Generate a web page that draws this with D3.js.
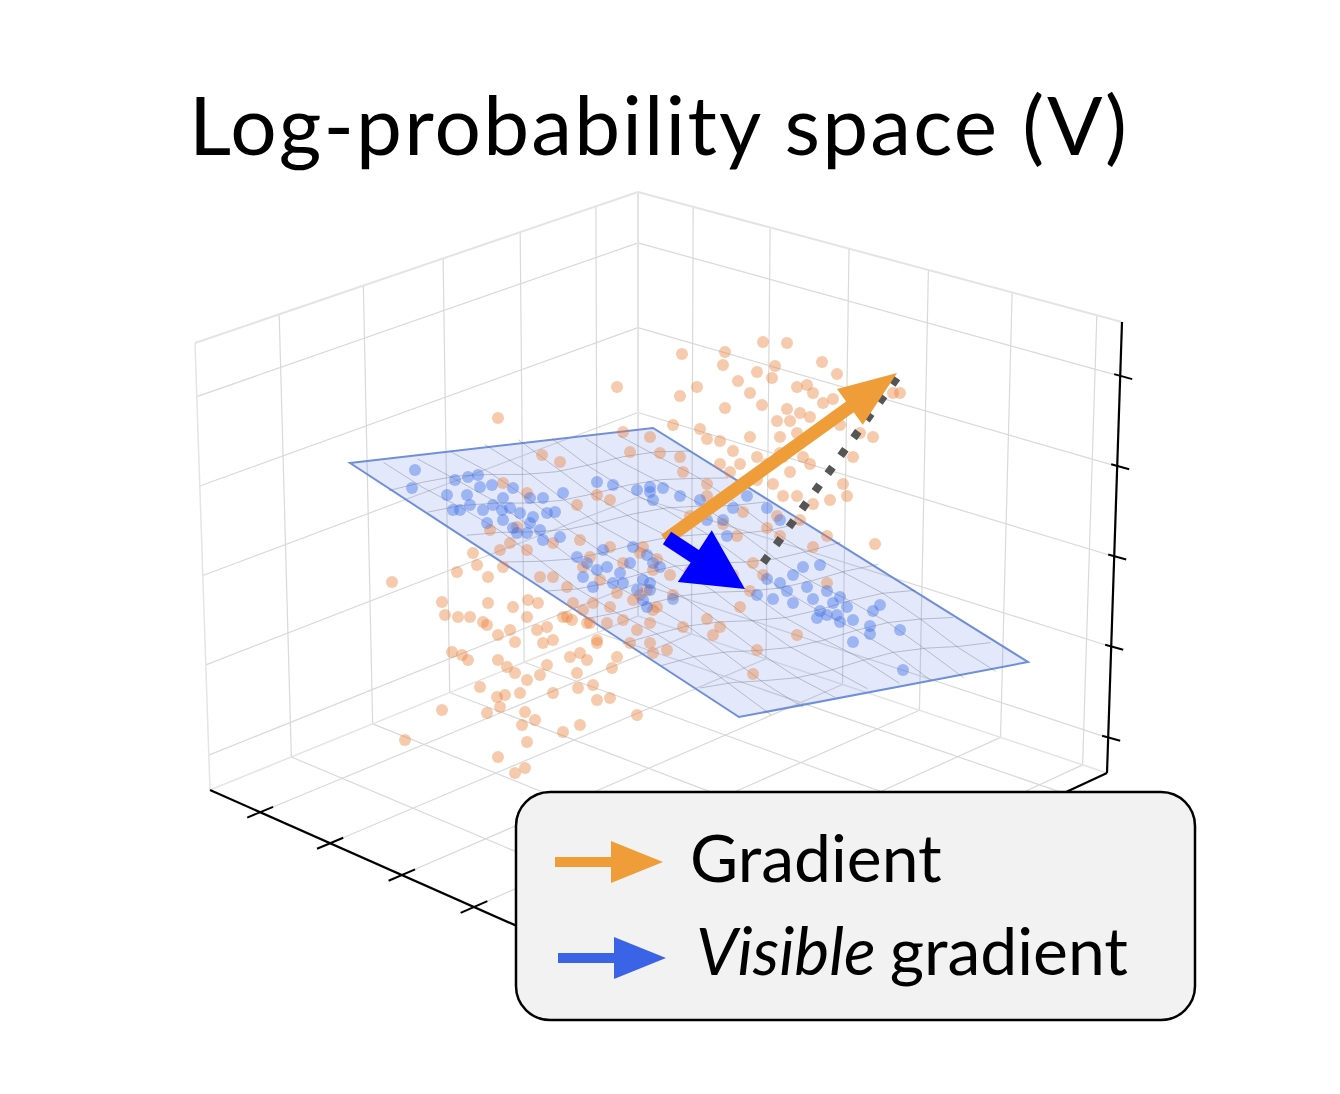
<!DOCTYPE html>
<html>
<head>
<meta charset="utf-8" />
<script src="https://cdnjs.cloudflare.com/ajax/libs/d3/7.8.5/d3.min.js"></script>
<style>
  body { margin: 0; background: #fff; }
  svg { display: block; }
  .title { font-family: Lato, "Open Sans", sans-serif; font-size: 82px; }
  .leg { font-family: Lato, "Open Sans", sans-serif; font-size: 66px; }
</style>
</head>
<body>
<div id="chart"></div>
<script>
// all positions below are in chart units: x = 0..134, y = 0..100 (y grows upward)
const titleText = 'Log-probability space (V)'
const legendLabels = ['Gradient', 'gradient']

// box corners of the 3d axes (back / left / right / front, bottom & top)
const boxBack = [[63.8, 38.4], [63.8, 80.8]]
const boxLeft = [[21.0, 21.0], [19.5, 65.7]]
const boxRight = [[110.7, 22.7], [112.2, 67.8]]
const boxFront = [[65.0, 1.5], [67.9, 52.7]]

const uTicks = [0.095, 0.266, 0.44, 0.62, 0.81]
const vTicks = [0.114, 0.273, 0.436, 0.60, 0.773, 0.948]
const wTicks = [0.078, 0.28, 0.48, 0.68, 0.88]

const planeCorners = [[35.0, 53.7], [65.3, 57.2], [102.8, 33.8], [73.9, 28.3]]

const orangePts = [
  [68.2,64.6],[72.5,64.8],[72.3,63.5],[76.3,65.8],[78.7,65.7],[82.2,63.8],[83.7,62.6],[69.7,61.3],
  [68.0,60.4],[72.5,59.2],[73.8,61.9],[75.7,62.8],[77.5,63.4],[77.2,62.2],[75.0,60.7],[76.2,59.5],
  [78.7,59.1],[79.7,61.3],[80.7,61.5],[81.3,60.7],[77.7,57.9],[79.0,57.9],[80.0,58.7],[81.0,58.3],
  [82.3,59.7],[83.3,60.1],[67.3,57.5],[70.0,57.1],[70.7,56.1],[72.0,55.9],[73.3,54.9],[75.0,56.3],
  [75.7,54.3],[78.0,56.3],[78.0,54.7],[79.7,56.7],[80.3,54.3],[81.0,53.6],[79.0,52.8],[78.3,54.3],
  [76.7,53.6],[74.0,53.6],[72.0,53.6],[84.0,57.5],[86.0,56.7],[87.3,56.3],[89.3,60.7],[90.0,60.7],
  [85.3,54.3],[84.3,51.6],[84.7,50.4],[83.0,50.0],[81.3,49.6],[79.7,50.4],[78.3,50.4],[77.3,51.6],
  [75.7,52.0],[73.0,52.8],[70.7,51.6],[77.7,48.4],[80.0,48.0],[81.3,45.3],[82.7,46.4],[87.5,45.6],
  [68.0,54.3],[66.0,54.7],[68.3,52.8],
  [54.2,54.5],[56.0,53.8],[62.3,56.8],[65.0,56.3],[63.0,54.8],[57.7,49.5],[59.7,50.5],[61.0,50.0],
  [52.7,50.7],[50.3,51.7],[49.0,47.0],[51.7,47.3],[51.0,45.7],[50.0,45.0],[52.7,45.0],[55.3,45.7],
  [58.0,46.0],[59.0,44.3],[61.0,45.3],[62.3,43.7],[64.0,44.7],[65.3,43.0],[55.3,42.3],[56.7,41.3],
  [54.0,42.3],[58.3,43.3],[60.0,42.0],[61.7,40.7],[63.3,40.0],[64.7,41.0],[65.3,39.0],[61.0,39.3],
  [59.3,39.7],[57.3,39.7],[58.7,37.7],[60.7,37.7],[62.3,38.0],[63.7,37.0],[65.0,37.7],[56.7,38.3],
  [59.7,36.0],[63.0,35.7],[61.7,34.3],[65.3,34.7],[64.0,40.5],[65.7,39.3],[67.3,40.5],[68.3,37.3],
  [70.7,38.1],[72.0,37.3],[65.0,35.7],[66.7,35.0],[74.0,39.3],[71.3,36.5],[75.7,35.0],[75.3,32.6],
  [79.7,36.5],[75.0,40.9],[73.3,42.5],[75.3,43.7],[76.3,42.5],[73.7,46.4],[72.3,47.6],[74.3,48.8],
  [76.7,47.2],[78.0,46.4],[82.7,41.7],[70.7,50.4],[69.0,48.4],[71.3,44.5],[69.0,42.9],[67.0,42.5],
  [65.7,44.1],[64.3,45.3],
  [39.2,41.8],[44.2,39.8],[44.5,38.5],[45.8,38.3],[47.0,38.3],[45.2,34.8],[46.2,34.5],[46.8,34.0],
  [48.3,37.8],[48.8,39.7],[48.7,37.5],[49.8,36.5],[51.0,37.0],[51.5,35.8],[51.3,39.3],[52.8,40.0],
  [52.7,38.3],[53.8,39.7],[53.7,37.0],[54.3,35.7],[55.3,36.0],[54.7,37.3],[56.3,38.3],[57.2,38.0],
  [58.3,39.0],[59.0,37.7],[59.7,35.7],[57.0,34.3],[58.0,34.7],[58.7,34.0],[61.2,33.2],[49.8,34.0],
  [50.7,33.3],[51.5,32.7],[52.7,32.0],[54.0,32.5],[54.7,33.5],[52.0,30.7],[48.0,31.3],[49.7,30.3],
  [50.5,30.5],[50.0,29.3],[48.7,28.7],[44.2,29.0],[52.5,28.8],[53.5,28.0],[52.2,27.5],[52.7,25.8],
  [55.3,30.7],[57.8,31.2],[59.3,31.5],[59.7,30.0],[61.0,30.2],[56.3,26.8],[58.0,27.5],[63.7,28.5],
  [40.5,26.0],[49.8,24.3],[51.5,22.7],[52.5,23.2],[57.7,32.7],[45.7,42.8],[47.7,43.5],[47.3,44.7],
  [48.8,42.3],[50.3,43.3],[49.8,58.2],[61.7,61.3]
]

const bluePts = [
  [41.5,53.0],[41.2,51.2],[45.5,52.0],[46.8,52.3],[47.8,52.5],[44.7,50.5],[46.7,50.5],[48.0,51.3],
  [49.2,51.5],[50.3,50.2],[51.3,51.2],[53.0,50.2],[54.3,50.2],[56.3,50.7],[46.0,49.0],[47.0,49.5],
  [48.3,49.0],[49.3,49.5],[50.2,49.0],[51.0,49.2],[52.0,48.7],[53.3,48.3],[54.7,48.7],[55.5,48.8],
  [45.3,49.0],[48.7,47.7],[50.3,48.0],[51.3,47.2],[53.0,47.7],[54.0,47.0],[54.3,46.0],[52.7,46.7],
  [51.7,46.7],[56.0,46.3],[59.7,51.8],[61.3,51.5],[63.7,51.0],[65.0,51.3],[65.3,50.0],[57.7,44.3],
  [58.7,43.7],[60.3,45.0],[59.7,43.0],[60.7,43.3],[62.0,42.7],[63.0,43.7],[64.3,42.0],[65.0,41.0],
  [63.7,41.0],[62.3,41.7],[61.3,41.7],[59.3,41.3],[58.3,42.3],[63.3,45.3],[65.3,43.7],[64.7,39.3],
  [64.3,40.0],[65.0,50.8],[66.3,51.2],[68.0,50.4],[70.0,50.0],[72.3,48.0],[73.3,49.2],[74.7,50.4],
  [76.7,49.2],[78.0,48.0],[72.7,46.4],[70.7,48.0],[64.7,44.5],[66.0,43.3],[65.0,41.7],[67.3,40.1],
  [69.0,42.5],[76.7,42.1],[78.0,41.7],[79.3,42.5],[80.3,43.3],[82.0,43.5],[78.7,40.9],[80.7,41.3],
  [81.3,40.1],[82.7,40.9],[83.3,39.7],[84.0,40.3],[84.7,39.3],[82.0,38.9],[81.7,38.2],[82.7,38.5],
  [83.7,38.5],[84.0,37.8],[85.3,38.0],[87.3,38.9],[88.0,39.5],[87.0,37.4],[85.3,35.8],[87.0,36.6],
  [90.0,37.0],[90.3,33.0],[79.3,39.7],[77.3,40.1],[75.7,40.5]
]

const gradientArrow = [[66.5, 46.0], [89.7, 62.7]]
const visibleArrow = [[66.7, 46.2], [74.5, 41.1]]
const dottedLine = [[89.7, 62.2], [75.5, 42.6]]

const W = 1340, H = 1094
const x = d3.scaleLinear().domain([0, 134]).range([0, W])
const y = d3.scaleLinear().domain([0, 100]).range([1000, 0])

const svg = d3.select('#chart').append('svg').attr('width', W).attr('height', H)

function lerp(a, b, t) { return [a[0] + (b[0] - a[0]) * t, a[1] + (b[1] - a[1]) * t] }
// trilinear map of (u along left axis, v along right axis, w height)
function P(u, v, w) {
  const bot = lerp(lerp(boxBack[0], boxLeft[0], u), lerp(boxRight[0], boxFront[0], u), v)
  const top = lerp(lerp(boxBack[1], boxLeft[1], u), lerp(boxRight[1], boxFront[1], u), v)
  const p = lerp(bot, top, w)
  return [x(p[0]), y(p[1])]
}
const line = d3.line()
function seg(g, a, b, color, width) {
  g.append('path').attr('d', line([a, b])).attr('stroke', color)
    .attr('stroke-width', width).attr('fill', 'none')
}

const grid = svg.append('g')
const gc = '#d9d9d9'
// left wall (v=0)
uTicks.forEach(u => seg(grid, P(u, 0, 0), P(u, 0, 1), gc, 1.2))
wTicks.forEach(w => seg(grid, P(0, 0, w), P(1, 0, w), gc, 1.2))
// right wall (u=0)
vTicks.forEach(v => seg(grid, P(0, v, 0), P(0, v, 1), gc, 1.2))
wTicks.forEach(w => seg(grid, P(0, 0, w), P(0, 1, w), gc, 1.2))
// floor
uTicks.forEach(u => seg(grid, P(u, 0, 0), P(u, 1, 0), gc, 1.2))
vTicks.forEach(v => seg(grid, P(0, v, 0), P(1, v, 0), gc, 1.2))
// pane edges
const ec = '#e4e4e4'
seg(grid, P(0, 0, 0), P(0, 0, 1), ec, 2)
seg(grid, P(0, 0, 1), P(1, 0, 1), ec, 2)
seg(grid, P(0, 0, 1), P(0, 1, 1), ec, 2)
seg(grid, P(1, 0, 0), P(1, 0, 1), ec, 1.5)
seg(grid, P(0, 0, 0), P(1, 0, 0), ec, 1.5)
seg(grid, P(0, 0, 0), P(0, 1, 0), ec, 1.5)

// black axes
seg(grid, P(1, 0, 0), P(1, 1, 0), '#000', 2.2)
seg(grid, P(0, 1, 0), P(1, 1, 0), '#000', 2.2)
seg(grid, P(0, 1, 0), P(0, 1, 1), '#000', 2.2)
vTicks.slice(0, 5).forEach(v => seg(grid, P(0.97, v, 0), P(1.03, v, 0), '#000', 2))
wTicks.forEach(w => {
  const p = P(0, 1, w)
  seg(grid, [p[0] - 6, p[1] - 2], [p[0] + 12, p[1] + 3], '#000', 2)
})

// fitted plane
const pc = planeCorners.map(d => [x(d[0]), y(d[1])])
function bil(s, t) {
  return lerp(lerp(pc[0], pc[1], s), lerp(pc[3], pc[2], s), t)
}
svg.append('path').attr('d', line(pc) + 'Z')
  .attr('fill', 'rgba(80,120,225,0.16)').attr('stroke', '#6f8fdc').attr('stroke-width', 2)
const mesh = svg.append('g')
d3.range(1, 9).forEach(i => {
  const s = i / 9
  const pts = d3.range(0, 11).map(j => {
    const p = bil(s, j / 10)
    return [p[0], p[1] + Math.sin(j * 1.3 + i) * 4]
  })
  mesh.append('path').attr('d', line(pts)).attr('fill', 'none')
    .attr('stroke', 'rgba(95,100,120,0.35)').attr('stroke-width', 1)
})
d3.range(1, 10).forEach(j => {
  const t = j / 10
  const pts = d3.range(0, 10).map(i => {
    const p = bil(i / 9, t)
    return [p[0], p[1] + Math.cos(i * 1.1 + j) * 4]
  })
  mesh.append('path').attr('d', line(pts)).attr('fill', 'none')
    .attr('stroke', 'rgba(95,100,120,0.35)').attr('stroke-width', 1)
})

// scatter
svg.append('g').selectAll('circle').data(orangePts).join('circle')
  .attr('cx', d => x(d[0])).attr('cy', d => y(d[1])).attr('r', 6)
  .attr('fill', '#e9813c').attr('fill-opacity', 0.42)
svg.append('g').selectAll('circle').data(bluePts).join('circle')
  .attr('cx', d => x(d[0])).attr('cy', d => y(d[1])).attr('r', 6)
  .attr('fill', '#3b6ee6').attr('fill-opacity', 0.42)

// dotted projection line
svg.append('path')
  .attr('d', line(dottedLine.map(d => [x(d[0]), y(d[1])])))
  .attr('stroke', '#555').attr('stroke-width', 8).attr('stroke-dasharray', '8 14')
  .attr('fill', 'none')

function arrow(g, a, b, sw, hw, hl, color) {
  const dx = b[0] - a[0], dy = b[1] - a[1]
  const L = Math.hypot(dx, dy), ux = dx / L, uy = dy / L, nx = -uy, ny = ux
  const bx = b[0] - ux * hl, by = b[1] - uy * hl
  const pts = [
    [a[0] + nx * sw / 2, a[1] + ny * sw / 2], [bx + nx * sw / 2, by + ny * sw / 2],
    [bx + nx * hw / 2, by + ny * hw / 2], b,
    [bx - nx * hw / 2, by - ny * hw / 2], [bx - nx * sw / 2, by - ny * sw / 2],
    [a[0] - nx * sw / 2, a[1] - ny * sw / 2]
  ]
  g.append('path').attr('d', line(pts) + 'Z').attr('fill', color)
}
const px = p => [x(p[0]), y(p[1])]
const arrows = svg.append('g')
arrow(arrows, px(gradientArrow[0]), px(gradientArrow[1]), 13, 44, 58, '#ef9d38')
arrow(arrows, px(visibleArrow[0]), px(visibleArrow[1]), 15, 62, 60, '#0000ff')

// title
svg.append('text').attr('class', 'title').attr('x', x(65.8)).attr('y', y(84.5))
  .attr('text-anchor', 'middle').attr('textLength', 938).attr('lengthAdjust', 'spacing')
  .text(titleText)

// legend
const lg = svg.append('g')
lg.append('rect').attr('x', x(51.6)).attr('y', y(20.8)).attr('width', x(67.9))
  .attr('height', y(-2.0) - y(20.8))
  .attr('rx', 34).attr('fill', '#f2f2f2').attr('stroke', '#000').attr('stroke-width', 2.5)
arrow(lg, [x(55.5), y(13.8)], [x(66.3), y(13.8)], 10, 42, 52, '#ef9d38')
arrow(lg, [x(55.8), y(4.2)], [x(66.6), y(4.2)], 10, 42, 52, '#3a63e6')
lg.append('text').attr('class', 'leg').attr('x', x(69.0)).attr('y', y(11.8)).text(legendLabels[0])
const t2 = lg.append('text').attr('class', 'leg').attr('x', x(69.6)).attr('y', y(2.5))
t2.append('tspan').attr('font-style', 'italic').text('Visible')
t2.append('tspan').attr('dx', 14).text(legendLabels[1])
</script>
</body>
</html>
